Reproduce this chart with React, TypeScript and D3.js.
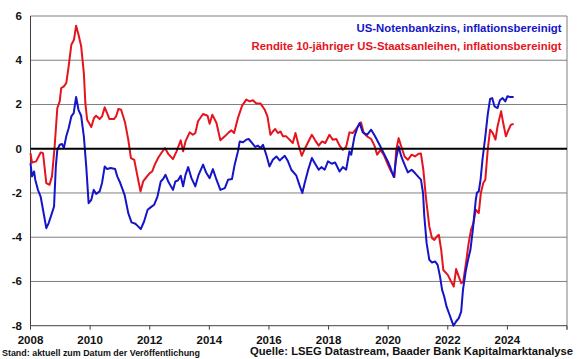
import { useEffect, useRef } from 'react';
import * as d3 from 'd3';

// [decimal year, percent]
const fedRealRate: [number, number][] = [
  [2008.0, -0.65], [2008.05, -1.25], [2008.12, -1.03], [2008.16, -1.4], [2008.25, -1.86], [2008.34, -2.16],
  [2008.42, -2.76], [2008.53, -3.59], [2008.61, -3.36], [2008.7, -2.99], [2008.79, -2.61], [2008.85, -0.8],
  [2008.9, -0.05], [2008.98, 0.18], [2009.06, 0.21], [2009.12, 0.03], [2009.2, 0.56], [2009.28, 0.93],
  [2009.37, 1.46], [2009.45, 1.61], [2009.53, 2.34], [2009.61, 1.76], [2009.7, 1.49], [2009.79, 0.56],
  [2009.87, -0.8], [2009.95, -2.46], [2010.04, -2.31], [2010.12, -1.86], [2010.2, -2.04], [2010.32, -1.93],
  [2010.4, -1.55], [2010.49, -0.8], [2010.57, -0.92], [2010.69, -0.87], [2010.84, -0.92], [2010.91, -1.25],
  [2010.99, -1.48], [2011.16, -2.1], [2011.28, -2.91], [2011.39, -3.33], [2011.52, -3.39], [2011.61, -3.51],
  [2011.7, -3.63], [2011.81, -3.29], [2011.93, -2.76], [2012.04, -2.64], [2012.15, -2.53], [2012.26, -2.16],
  [2012.37, -1.48], [2012.45, -1.37], [2012.53, -1.18], [2012.62, -1.48], [2012.78, -1.86], [2012.86, -1.48],
  [2012.95, -1.43], [2013.04, -1.22], [2013.12, -1.7], [2013.2, -1.18], [2013.29, -0.83], [2013.4, -1.33],
  [2013.53, -1.7], [2013.64, -1.18], [2013.79, -0.72], [2013.9, -1.1], [2014.01, -1.33], [2014.12, -0.92],
  [2014.24, -1.4], [2014.37, -1.86], [2014.52, -1.78], [2014.63, -1.4], [2014.76, -1.37], [2014.85, -0.72],
  [2014.96, -0.12], [2015.02, 0.33], [2015.13, 0.29], [2015.24, 0.41], [2015.32, 0.44], [2015.43, 0.26],
  [2015.54, 0.08], [2015.63, 0.14], [2015.72, 0.03], [2015.8, 0.18], [2015.91, -0.27], [2016.02, -0.8],
  [2016.13, -0.5], [2016.25, -0.35], [2016.36, -0.53], [2016.53, -0.32], [2016.64, -0.57], [2016.75, -0.95],
  [2016.92, -1.22], [2017.03, -1.67], [2017.12, -2.0], [2017.2, -1.55], [2017.31, -0.98], [2017.44, -0.42],
  [2017.55, -0.68], [2017.67, -0.95], [2017.76, -0.83], [2017.87, -0.95], [2017.98, -0.57], [2018.11, -0.68],
  [2018.22, -0.62], [2018.37, -1.03], [2018.48, -0.83], [2018.59, -0.95], [2018.7, -0.12], [2018.76, -0.27],
  [2018.87, 0.56], [2018.96, 0.93], [2019.04, 1.16], [2019.15, 0.74], [2019.29, 0.63], [2019.43, 0.86],
  [2019.56, 0.56], [2019.71, 0.18], [2019.85, -0.2], [2019.99, -0.57], [2020.08, -0.87], [2020.12, -1.03],
  [2020.19, -1.28], [2020.27, -0.42], [2020.35, 0.1], [2020.44, -0.35], [2020.55, -0.72], [2020.66, -1.07],
  [2020.79, -0.95], [2020.9, -1.1], [2021.02, -1.28], [2021.1, -1.4], [2021.17, -2.0], [2021.21, -3.0],
  [2021.29, -4.27], [2021.38, -5.02], [2021.47, -5.14], [2021.58, -5.1], [2021.66, -5.25], [2021.74, -5.78],
  [2021.81, -6.38], [2021.88, -6.68], [2021.96, -7.14], [2022.05, -7.47], [2022.13, -7.77], [2022.19, -8.0],
  [2022.28, -7.81], [2022.37, -7.66], [2022.45, -7.36], [2022.51, -6.38], [2022.6, -5.55], [2022.68, -5.02],
  [2022.76, -4.57], [2022.84, -3.67], [2022.94, -2.31], [2022.98, -1.98], [2023.04, -1.93], [2023.1, -1.4],
  [2023.17, -0.42], [2023.26, 0.56], [2023.34, 1.54], [2023.42, 2.25], [2023.49, 2.29], [2023.57, 1.91],
  [2023.67, 1.84], [2023.75, 2.19], [2023.84, 2.29], [2023.93, 2.14], [2024.0, 2.37], [2024.09, 2.34],
  [2024.21, 2.34],
];

const bondRealYield: [number, number][] = [
  [2008.0, -0.2], [2008.05, -0.63], [2008.19, -0.57], [2008.34, -0.17], [2008.42, -0.2], [2008.53, -1.55],
  [2008.64, -1.63], [2008.72, -1.25], [2008.81, 0.1], [2008.9, 1.84], [2008.98, 2.14], [2009.03, 2.74],
  [2009.12, 2.82], [2009.2, 2.97], [2009.28, 3.72], [2009.37, 4.7], [2009.46, 4.93], [2009.53, 5.56],
  [2009.61, 5.16], [2009.7, 4.63], [2009.79, 3.42], [2009.84, 2.07], [2009.9, 1.31], [2010.04, 0.98],
  [2010.13, 1.39], [2010.2, 1.49], [2010.32, 1.34], [2010.4, 1.46], [2010.49, 1.87], [2010.57, 1.61],
  [2010.65, 1.34], [2010.8, 1.34], [2010.87, 1.46], [2010.95, 1.8], [2011.04, 1.76], [2011.17, 1.2],
  [2011.28, 0.41], [2011.37, -0.42], [2011.48, -0.5], [2011.59, -1.25], [2011.69, -1.93], [2011.78, -1.48],
  [2011.89, -1.28], [2012.0, -1.1], [2012.08, -1.03], [2012.17, -0.72], [2012.28, -0.42], [2012.4, -0.17],
  [2012.51, 0.03], [2012.62, -0.23], [2012.78, -0.47], [2012.9, -0.12], [2013.04, 0.38], [2013.12, -0.12],
  [2013.2, 0.33], [2013.34, 0.74], [2013.45, 0.63], [2013.53, 0.71], [2013.62, 1.24], [2013.79, 1.57],
  [2013.94, 1.49], [2014.01, 1.13], [2014.1, 1.54], [2014.24, 1.16], [2014.37, 0.38], [2014.52, 0.56],
  [2014.65, 0.74], [2014.74, 0.83], [2014.83, 0.71], [2014.96, 1.39], [2015.1, 1.95], [2015.24, 2.22],
  [2015.35, 2.14], [2015.46, 2.19], [2015.58, 2.04], [2015.72, 2.04], [2015.86, 1.76], [2015.95, 1.46],
  [2016.05, 0.63], [2016.13, 0.78], [2016.21, 0.89], [2016.3, 0.71], [2016.39, 0.78], [2016.47, 0.56],
  [2016.58, 0.56], [2016.69, 0.41], [2016.8, 0.26], [2016.89, 0.71], [2016.99, 0.18], [2017.1, -0.32],
  [2017.2, -0.01], [2017.3, 0.26], [2017.44, 0.63], [2017.55, 0.38], [2017.67, 0.14], [2017.78, 0.33],
  [2017.89, 0.26], [2018.03, 0.63], [2018.14, 0.41], [2018.26, 0.44], [2018.37, 0.14], [2018.48, -0.05],
  [2018.59, 0.08], [2018.7, 0.74], [2018.81, 0.71], [2018.92, 0.89], [2019.0, 1.04], [2019.09, 1.19],
  [2019.18, 0.71], [2019.29, 0.56], [2019.43, 0.44], [2019.54, 0.14], [2019.63, -0.27], [2019.74, -0.05],
  [2019.85, -0.27], [2019.99, -0.72], [2020.1, -1.03], [2020.21, -1.28], [2020.27, -0.05], [2020.35, 0.48],
  [2020.44, 0.1], [2020.55, -0.35], [2020.66, -0.5], [2020.79, -0.27], [2020.9, -0.35], [2021.02, -0.23],
  [2021.1, -0.22], [2021.18, -0.95], [2021.27, -2.25], [2021.38, -3.51], [2021.47, -4.04], [2021.55, -4.12],
  [2021.63, -3.97], [2021.7, -3.89], [2021.78, -4.57], [2021.85, -5.48], [2022.0, -5.7], [2022.11, -6.0],
  [2022.2, -6.23], [2022.28, -5.44], [2022.37, -5.78], [2022.45, -6.08], [2022.52, -6.0], [2022.61, -5.17],
  [2022.7, -4.27], [2022.78, -3.67], [2022.86, -3.36], [2022.94, -2.76], [2023.04, -2.91], [2023.11, -2.0],
  [2023.19, -1.55], [2023.26, -1.4], [2023.34, -0.05], [2023.42, 0.86], [2023.51, 0.71], [2023.6, 0.41],
  [2023.67, 1.01], [2023.79, 1.69], [2023.86, 1.16], [2023.95, 0.56], [2024.04, 0.86], [2024.12, 1.09],
  [2024.21, 1.12],
];

const yTicks = [-8, -6, -4, -2, 0, 2, 4, 6];
const xTicks = [2008, 2010, 2012, 2014, 2016, 2018, 2020, 2022, 2024, 2026];
const xLabels = [2008, 2010, 2012, 2014, 2016, 2018, 2020, 2022, 2024];

const BLUE = '#1414c8';
const RED = '#e5141c';
const FONT = "Arial, 'Liberation Sans', sans-serif";

export default function App() {
  const svgRef = useRef<SVGSVGElement>(null);

  useEffect(() => {
    if (!svgRef.current) return;
    const width = 580;
    const height = 359;
    const left = 30.5;
    const right = 567;
    const top = 16;
    const bottom = 325.7;

    const svg = d3.select(svgRef.current);
    svg.selectAll('*').remove();
    svg.attr('width', width).attr('height', height);

    svg.append('rect').attr('width', width).attr('height', height).attr('fill', '#fff');

    const x = d3.scaleLinear().domain([2008, 2026]).range([left, right]);
    const y = d3.scaleLinear().domain([-8, 6]).range([bottom, top]);

    // horizontal gridlines
    svg.append('g')
      .selectAll('line')
      .data(yTicks.filter((t) => t !== 0 && t !== -8))
      .join('line')
      .attr('x1', left)
      .attr('x2', right)
      .attr('y1', (d) => y(d))
      .attr('y2', (d) => y(d))
      .attr('stroke', '#7f7f7f')
      .attr('stroke-width', 1);

    // right border
    svg.append('line')
      .attr('x1', right).attr('x2', right)
      .attr('y1', top).attr('y2', bottom + 4)
      .attr('stroke', '#7f7f7f');

    // left axis
    svg.append('line')
      .attr('x1', left).attr('x2', left)
      .attr('y1', top).attr('y2', bottom)
      .attr('stroke', '#404040');

    // bottom axis
    svg.append('line')
      .attr('x1', left).attr('x2', right)
      .attr('y1', bottom).attr('y2', bottom)
      .attr('stroke', '#404040');

    svg.append('g')
      .selectAll('line')
      .data(xTicks)
      .join('line')
      .attr('x1', (d) => x(d))
      .attr('x2', (d) => x(d))
      .attr('y1', bottom)
      .attr('y2', bottom + 4)
      .attr('stroke', '#404040');

    const lineGen = d3
      .line<[number, number]>()
      .x((d) => x(d[0]))
      .y((d) => y(d[1]));

    svg.append('path')
      .datum(bondRealYield)
      .attr('d', lineGen)
      .attr('fill', 'none')
      .attr('stroke', RED)
      .attr('stroke-width', 2)
      .attr('stroke-linejoin', 'round');

    svg.append('path')
      .datum(fedRealRate)
      .attr('d', lineGen)
      .attr('fill', 'none')
      .attr('stroke', BLUE)
      .attr('stroke-width', 2)
      .attr('stroke-linejoin', 'round');

    // zero line on top
    svg.append('line')
      .attr('x1', left).attr('x2', right)
      .attr('y1', y(0)).attr('y2', y(0))
      .attr('stroke', '#000')
      .attr('stroke-width', 2);

    // y labels
    svg.append('g')
      .selectAll('text')
      .data(yTicks)
      .join('text')
      .attr('x', 22)
      .attr('y', (d) => y(d) + 4)
      .attr('text-anchor', 'end')
      .attr('font-family', FONT)
      .attr('font-weight', 'bold')
      .attr('font-size', 11.5)
      .attr('fill', '#111')
      .text((d) => String(d));

    // x labels
    svg.append('g')
      .selectAll('text')
      .data(xLabels)
      .join('text')
      .attr('x', (d) => x(d))
      .attr('y', 344)
      .attr('text-anchor', 'middle')
      .attr('font-family', FONT)
      .attr('font-weight', 'bold')
      .attr('font-size', 11.5)
      .attr('fill', '#111')
      .text((d) => String(d));

    // legend
    const legend = [
      { label: 'US-Notenbankzins, inflationsbereinigt', color: BLUE, y: 32, len: 205 },
      { label: 'Rendite 10-jähriger US-Staatsanleihen, inflationsbereinigt', color: RED, y: 50, len: 310 },
    ];
    svg.append('g')
      .selectAll('text')
      .data(legend)
      .join('text')
      .attr('x', 561.5)
      .attr('y', (d) => d.y)
      .attr('text-anchor', 'end')
      .attr('font-family', FONT)
      .attr('font-weight', 'bold')
      .attr('font-size', 11.5)
      .attr('fill', (d) => d.color)
      .attr('textLength', (d) => d.len)
      .attr('lengthAdjust', 'spacingAndGlyphs')
      .text((d) => d.label);

    // footer
    svg.append('text')
      .attr('x', 2)
      .attr('y', 355.5)
      .attr('font-family', FONT)
      .attr('font-weight', 'bold')
      .attr('font-size', 9)
      .attr('fill', '#111')
      .attr('textLength', 198)
      .attr('lengthAdjust', 'spacingAndGlyphs')
      .text('Stand: aktuell zum Datum der Veröffentlichung');

    svg.append('text')
      .attr('x', 250)
      .attr('y', 355)
      .attr('font-family', FONT)
      .attr('font-weight', 'bold')
      .attr('font-size', 11.5)
      .attr('fill', '#111')
      .attr('textLength', 323)
      .attr('lengthAdjust', 'spacingAndGlyphs')
      .text('Quelle: LSEG Datastream, Baader Bank Kapitalmarktanalyse');
  }, []);

  return (
    <svg
      ref={svgRef}
      style={{ position: 'absolute', left: 0, top: 0, display: 'block' }}
    />
  );
}
